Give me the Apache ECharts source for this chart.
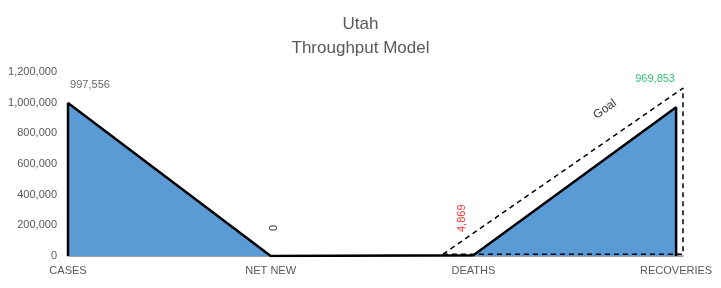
<!DOCTYPE html>
<html>
<head>
<meta charset="utf-8">
<script src="https://cdn.jsdelivr.net/npm/echarts@6/dist/echarts.min.js"></script>
<style>html,body{margin:0;padding:0;background:#fff}#c{width:721px;height:288px}</style>
</head>
<body>
<div id="c"></div>
<script>
const categories = ['CASES', 'NET NEW', 'DEATHS', 'RECOVERIES'];
const values = [997556, 0, 4869, 969853];
const yTicks = [0, 200000, 400000, 600000, 800000, 1000000, 1200000];
// Goal triangle, in category units (x) and people (y)
const goalX = [1.85, 3.034, 3.034, 1.85];
const goalY = [12000, 1095000, 12000, 12000];
const goalLabel = 'Goal';

const fmt = v => v.toLocaleString('en-US');
const FONT = '"Liberation Sans", Arial, sans-serif';

const flowData = [[0, 0]].concat(values.map((v, i) => [i, v])).concat([[categories.length - 1, 0]]);
const goalData = goalX.map((x, i) => [x, goalY[i]]);

// offsets are in the label's rotated frame
const labelStyles = [
  {offset: [22, -18], color: '#404040', rotate: 0},
  {offset: [28, 3], color: '#000000', rotate: 90},
  {offset: [37, -11], color: '#FF0000', rotate: 90},
  {offset: [-21, -28], color: '#00B050', rotate: 0}
];

const chart = echarts.init(document.getElementById('c'), null, {renderer: 'canvas'});
chart.setOption({
  animation: false,
  title: {
    text: 'Utah\nThroughput Model',
    left: 'center', top: 7,
    textStyle: {fontFamily: FONT, fontSize: 17, fontWeight: 'normal', color: '#595959', lineHeight: 24}
  },
  grid: {left: 68, right: 38, top: 72, bottom: 32},
  xAxis: {
    type: 'value', min: 0, max: goalX[1], interval: 1,
    axisLine: {show: true, lineStyle: {color: '#868686', width: 1.5}},
    axisTick: {show: false},
    splitLine: {show: false},
    axisLabel: {
      formatter: v => categories[v] || '',
      fontFamily: FONT, fontSize: 11, color: '#595959', margin: 9,
      showMinLabel: true, showMaxLabel: false
    }
  },
  yAxis: {
    type: 'value', min: yTicks[0], max: yTicks[yTicks.length - 1], interval: 200000,
    axisLine: {show: false}, axisTick: {show: false}, splitLine: {show: false},
    axisLabel: {formatter: v => fmt(v), fontFamily: FONT, fontSize: 11, color: '#595959', margin: 11}
  },
  series: [
    {
      type: 'line', data: flowData, showSymbol: false, symbol: 'none',
      lineStyle: {color: '#000', width: 2.5},
      areaStyle: {color: '#5B9BD5', opacity: 1},
      z: 2
    },
    {
      type: 'line', data: goalData, showSymbol: false, symbol: 'none', clip: false,
      lineStyle: {color: '#000', width: 1.5, type: [5, 4]},
      z: 3
    },
    {
      type: 'scatter', symbolSize: 0, z: 5,
      data: values.map((v, i) => ({
        value: [i, v],
        label: {
          show: true, formatter: fmt(v), position: 'inside',
          align: 'center', verticalAlign: 'middle',
          offset: labelStyles[i].offset, rotate: labelStyles[i].rotate,
          color: labelStyles[i].color, fontFamily: FONT, fontSize: 11
        }
      }))
    },
    {
      type: 'scatter', symbolSize: 0, z: 5, clip: false,
      data: [{
        value: [goalX[1], goalY[1]],
        label: {
          show: true, formatter: goalLabel, position: 'inside',
          align: 'center', verticalAlign: 'middle',
          offset: [-76, -27.5], rotate: 35,
          color: '#000', fontFamily: FONT, fontSize: 12
        }
      }]
    }
  ]
});
</script>
</body>
</html>
